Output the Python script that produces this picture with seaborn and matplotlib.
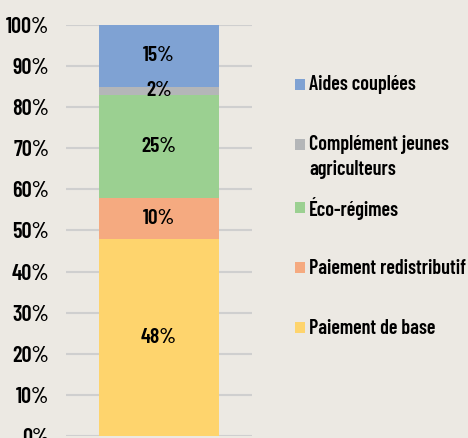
import matplotlib
matplotlib.use("Agg")
import matplotlib.pyplot as plt
import seaborn as sns
from matplotlib.patches import Rectangle

# --- DONNEES ---
categorie = ["Total"]
series = ["Paiement de base", "Paiement redistributif", "Éco-régimes",
          "Complément jeunes\nagriculteurs", "Aides couplées"]
valeurs = [48, 10, 25, 2, 15]
couleurs = ["#FED46D", "#F5AA80", "#9BD091", "#B4B6B8", "#7FA2D3"]
ticks_y = [0, 10, 20, 30, 40, 50, 60, 70, 80, 90, 100]

FOND = "#ECE9E3"
W, H = 468, 438

sns.set_theme(style="white")
plt.rcParams['font.family'] = ['Barlow Condensed', 'DejaVu Sans']
plt.rcParams['font.weight'] = 'semibold'

fig = plt.figure(figsize=(4.68, 4.38), dpi=100, facecolor=FOND)
ax = fig.add_axes([0.141, 0.0046, 0.397, 0.9384])
ax.set_facecolor(FOND)

bas = 0
for nom, val, coul in zip(series, valeurs, couleurs):
    sns.barplot(x=categorie, y=[val], bottom=bas, color=coul, width=0.65,
                ax=ax, saturation=1, linewidth=0, zorder=3)
    ax.text(0, bas + val / 2, f"{val}%", ha="center", va="center",
            fontsize=15.5, color="black", zorder=4)
    bas += val

ax.set_ylim(0, 100)
ax.set_xlim(-0.5, 0.5)
ax.set_yticks(ticks_y)
ax.set_yticklabels([f"{t}%" for t in ticks_y], fontsize=16, color="black")
ax.set_xticks([])
ax.set_xlabel("")
ax.set_ylabel("")
ax.grid(axis="y", color="#CFCFCF", linewidth=1.5, zorder=0)
ax.tick_params(axis="y", length=0, pad=12)
for s in ax.spines.values():
    s.set_visible(False)

# legende (ordre inverse), placee a la main comme dans l'original
y_leg = [85, 145, 208, 268, 328]  # centre de la premiere ligne, en pixels depuis le haut
for y, nom, coul in zip(y_leg, series[::-1], couleurs[::-1]):
    fig.add_artist(Rectangle((295 / W, 1 - (y + 5) / H), 10 / W, 11 / H,
                             transform=fig.transFigure, facecolor=coul,
                             edgecolor="none"))
    for k, ligne in enumerate(nom.split("\n")):
        fig.text(309 / W, 1 - (y + 25 * k) / H, ligne, ha="left", va="center",
                 fontsize=14.5, color="black")

fig.savefig("out.png", dpi=100, facecolor=FOND)
